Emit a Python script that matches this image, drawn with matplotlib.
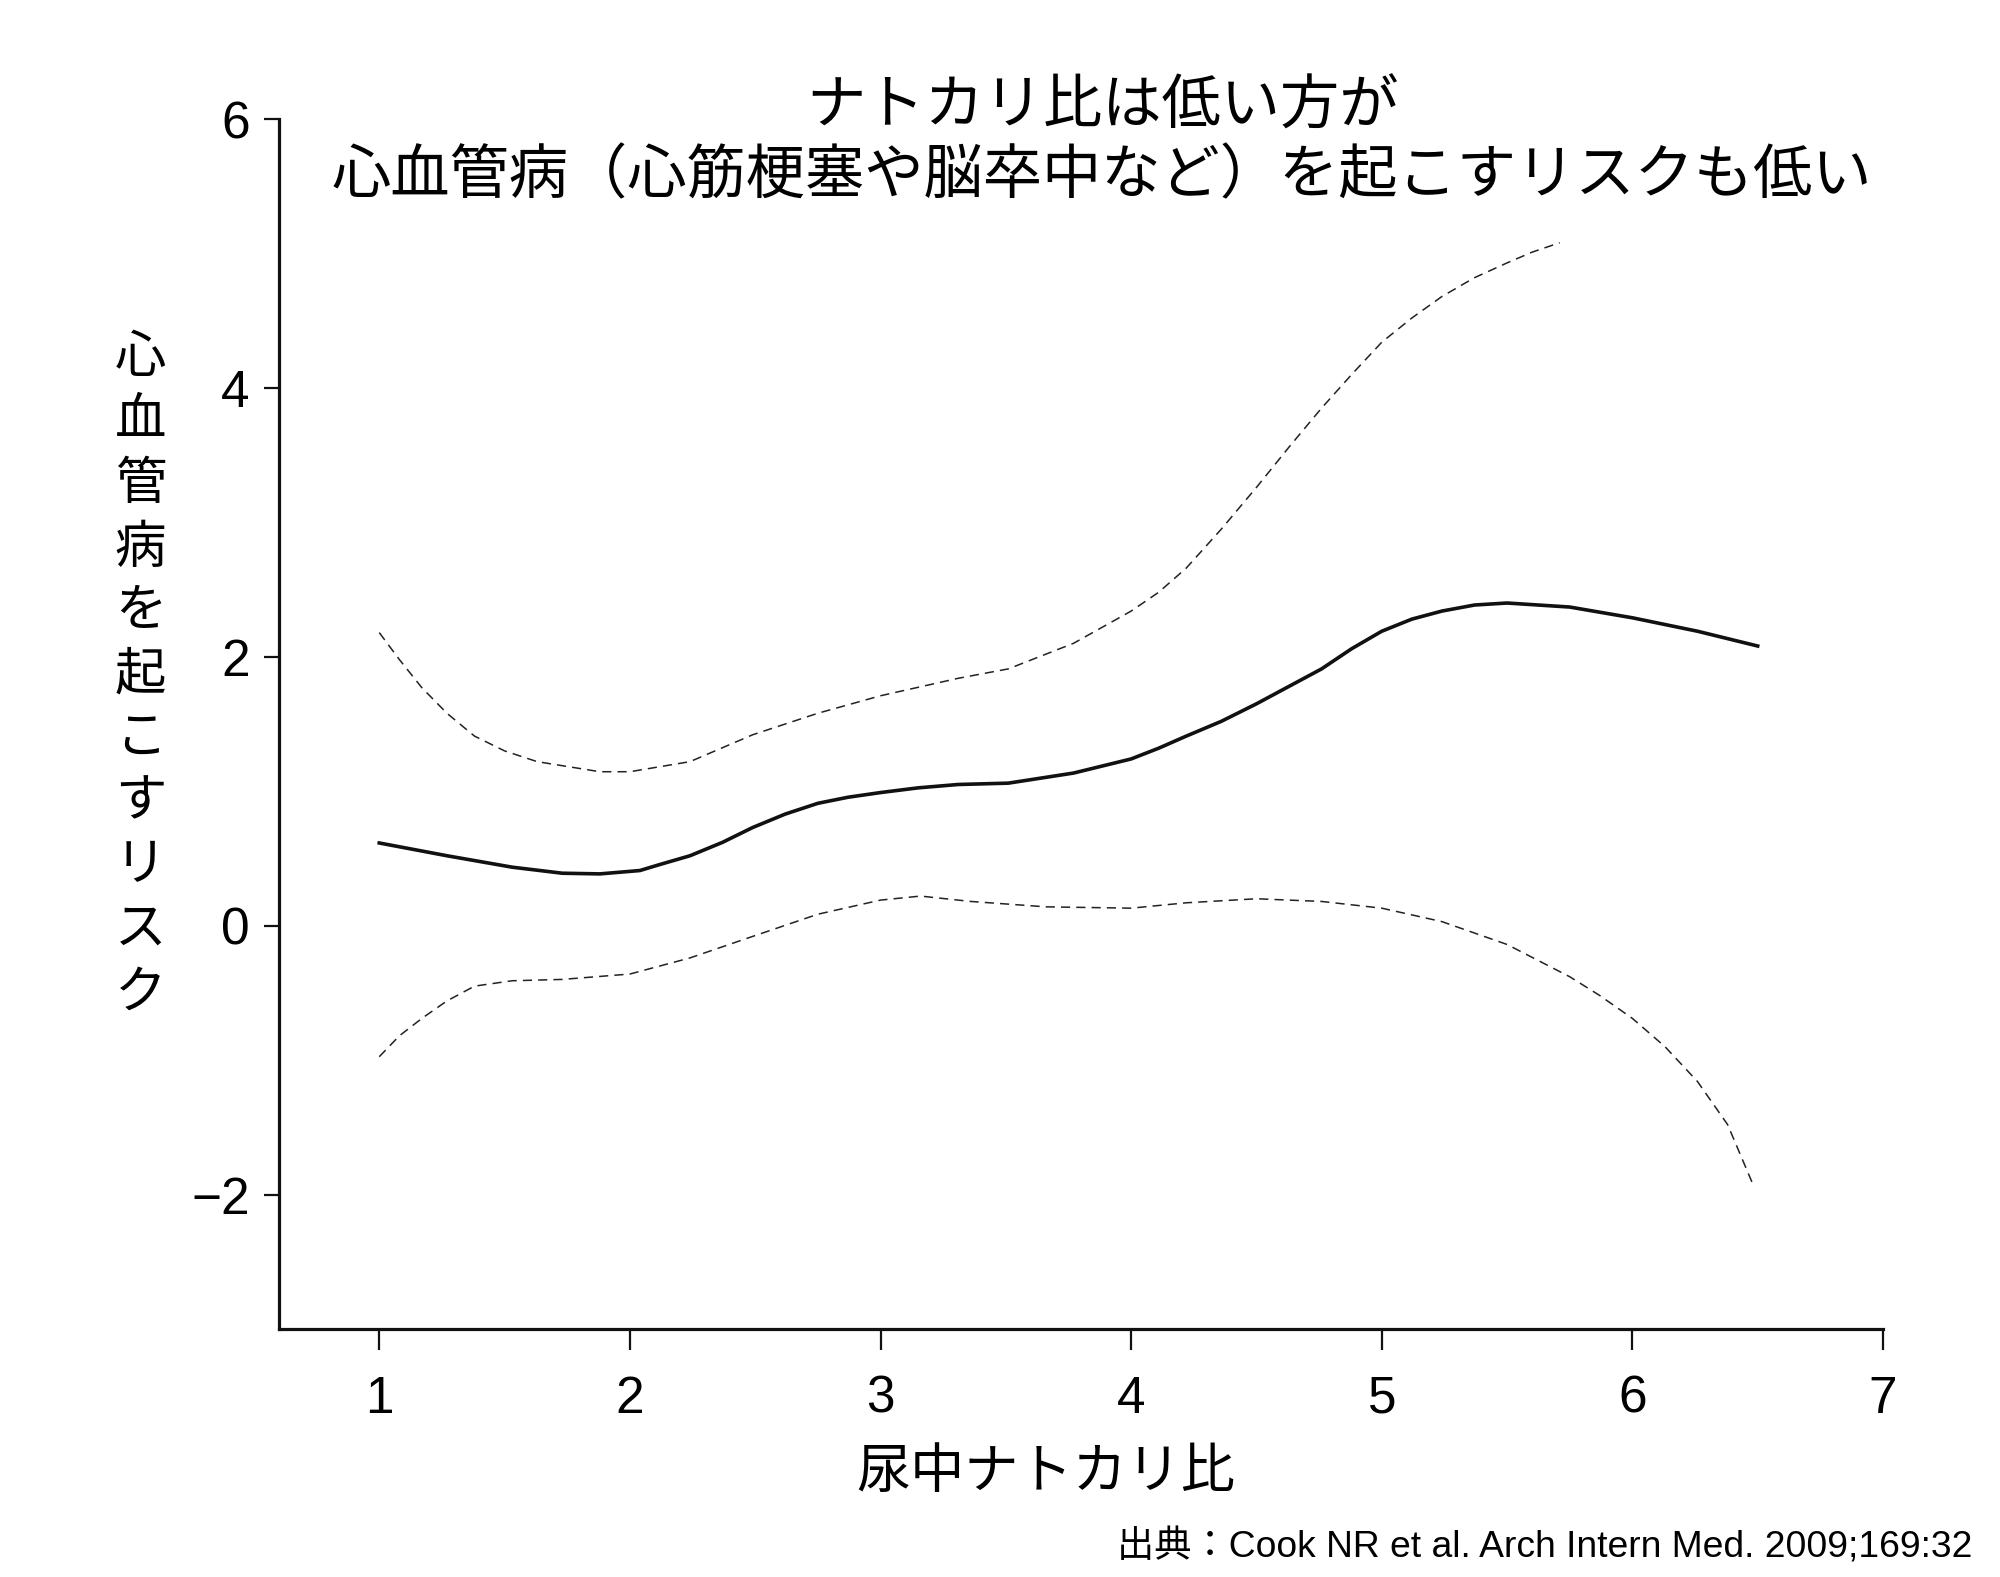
import matplotlib
matplotlib.use("Agg")
import matplotlib.pyplot as plt
from matplotlib import font_manager

# fonts
names = set(f.name for f in font_manager.fontManager.ttflist)
narrow = 'Liberation Sans Narrow' if 'Liberation Sans Narrow' in names else 'Liberation Sans'
jp = ['Noto Sans CJK JP', 'DejaVu Sans']
plt.rcParams['font.family'] = jp

# data
x_mid = [1.0, 1.27, 1.53, 1.73, 1.88, 2.04, 2.12, 2.24, 2.37, 2.49, 2.62, 2.75, 2.87, 3.0,
         3.15, 3.31, 3.51, 3.77, 4.0, 4.11, 4.22, 4.36, 4.5, 4.63, 4.76, 4.88, 5.0,
         5.12, 5.24, 5.37, 5.5, 5.75, 6.0, 6.26, 6.5]
y_mid = [0.615, 0.52, 0.435, 0.39, 0.385, 0.41, 0.455, 0.52, 0.62, 0.73, 0.83, 0.91, 0.955, 0.99,
         1.025, 1.05, 1.06, 1.135, 1.24, 1.32, 1.41, 1.52, 1.65, 1.78, 1.91, 2.06, 2.19,
         2.28, 2.34, 2.385, 2.40, 2.37, 2.29, 2.19, 2.08]

x_up = [1.0, 1.08, 1.17, 1.27, 1.38, 1.5, 1.63, 1.88, 2.0, 2.24, 2.49, 2.75, 3.0, 3.31, 3.51, 3.77,
        4.0, 4.11, 4.22, 4.36, 4.5, 4.63, 4.76, 4.88, 5.0, 5.12, 5.24, 5.37, 5.5, 5.6, 5.71]
y_up = [2.18, 1.98, 1.77, 1.58, 1.41, 1.30, 1.22, 1.145, 1.145, 1.22, 1.42, 1.58, 1.71, 1.84, 1.91, 2.10,
        2.34, 2.48, 2.66, 2.95, 3.26, 3.56, 3.85, 4.10, 4.34, 4.52, 4.68, 4.82, 4.93, 5.01, 5.08]

x_lo = [1.0, 1.08, 1.17, 1.27, 1.38, 1.53, 1.73, 2.0, 2.24, 2.49, 2.75, 3.0, 3.16, 3.36, 3.66,
        4.0, 4.22, 4.5, 4.76, 5.0, 5.24, 5.5, 5.75, 5.87, 6.0, 6.13, 6.26, 6.38, 6.48]
y_lo = [-0.975, -0.82, -0.69, -0.56, -0.45, -0.41, -0.40, -0.36, -0.24, -0.08, 0.085, 0.19, 0.22, 0.18, 0.14,
        0.13, 0.17, 0.2, 0.18, 0.13, 0.03, -0.14, -0.38, -0.52, -0.69, -0.90, -1.16, -1.48, -1.92]

xticks = [1, 2, 3, 4, 5, 6, 7]
yticks = [-2, 0, 2, 4, 6]
ytick_labels = ['\u22122', '0', '2', '4', '6']

title = 'ナトカリ比は低い方が\n心血管病（心筋梗塞や脳卒中など）を起こすリスクも低い'
ylabel = '心血管病を起こすリスク'
xlabel = '尿中ナトカリ比'
source = '出典：Cook NR et al. Arch Intern Med. 2009;169:32'

fig = plt.figure(figsize=(20, 15.77), dpi=100)
ax = fig.add_axes([0.1395, 0.1573, 0.802, 0.7672])

ax.plot(x_mid, y_mid, color='#111111', lw=2.6, solid_joinstyle='round')
ax.plot(x_up, y_up, color='#222222', lw=1.1, dashes=(6, 4))
ax.plot(x_lo, y_lo, color='#222222', lw=1.1, dashes=(6, 4))

ax.set_xlim(0.6, 7)
ax.set_ylim(-3, 6)
for s in ['top', 'right']:
    ax.spines[s].set_visible(False)
for s in ['left', 'bottom']:
    ax.spines[s].set_linewidth(2.3)
    ax.spines[s].set_color('#111111')

ax.set_xticks(xticks)
ax.set_xticklabels([str(t) for t in xticks], family=narrow, fontsize=37)
ax.set_yticks(yticks)
ax.set_yticklabels(ytick_labels, family=narrow, fontsize=37)
ax.tick_params(axis='x', length=15, width=1.6, pad=18, color='#111111')
ax.tick_params(axis='y', length=11, width=1.6, pad=10, color='#111111')

fig.text(0.551, 0.91, title, ha='center', va='center', fontsize=42.7,
         linespacing=1.2, family=jp)

# vertical y label, one character per line
top_y = 0.7735
step = 0.0403
for i, ch in enumerate(ylabel):
    fig.text(0.0702, top_y - i * step, ch, ha='center', va='center', fontsize=37, family=jp)

fig.text(0.523, 0.066, xlabel, ha='center', va='center', fontsize=39, family=jp)
fig.text(0.986, 0.019, source, ha='right', va='center', fontsize=26.8,
         family=[narrow, 'Noto Sans CJK JP'])

fig.savefig('out.png', dpi=100, facecolor='white')
